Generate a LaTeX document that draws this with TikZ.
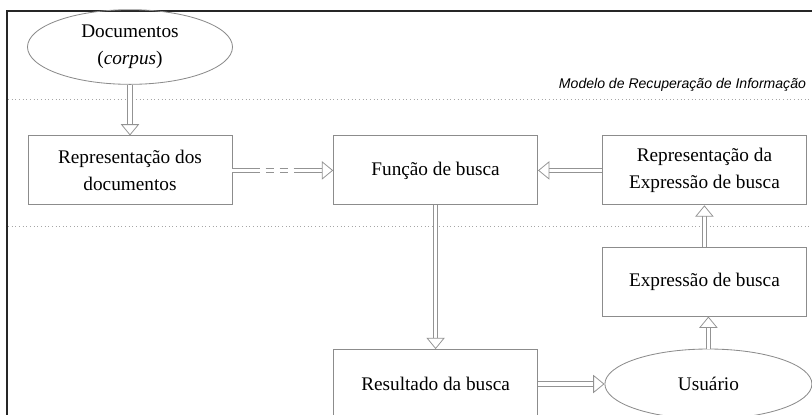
\documentclass[tikz,border=0pt]{standalone}
\usepackage{fontspec}
\setmainfont{Liberation Serif}
\newfontfamily\modelfont{Liberation Sans}
\usetikzlibrary{arrows.meta,shapes.geometric}

\tikzset{
    caixa/.style={draw=gray!90, line width=0.6pt, minimum width=5.1cm, minimum height=1.725cm, align=center},
    elipse/.style={ellipse, draw=gray!90, line width=0.6pt, align=center},
    seta/.style={draw=gray!85, double=white, double distance=2.6pt, line width=0.55pt},
    ponta/.style={seta, -{Triangle[open, length=8pt, width=13pt]}},
    tracejado/.style={seta, dash pattern=on 6pt off 4pt, dash phase=6pt},
    pontilhado/.style={gray!70, dotted, line width=0.6pt}
}

\begin{document}
\begin{tikzpicture}[every node/.style={font=\fontsize{13.7}{19}\selectfont}]
        \useasboundingbox (0,0) rectangle (20.3,-10.35);

        % moldura
        \draw[black!85, line width=1.5pt] (0.175,-10.6) -- (0.175,-0.275) -- (20.6,-0.275);

        % faixa do modelo
        \draw[pontilhado] (0.2,-2.475) -- (20.6,-2.475);
        \draw[pontilhado] (0.2,-5.65) -- (20.6,-5.65);
        \node[anchor=base west, font=\modelfont\itshape\fontsize{10}{12}\selectfont] (modelo) at (13.85,-2.2) {Modelo de Recuperação de Informação};

        \node[elipse, minimum width=5.125cm, minimum height=1.675cm] (docs) at (3.25,-1.175) {Documentos\\(\textit{corpus})};
        \node[caixa] (repdocs) at (3.25,-4.26) {Representação dos\\documentos};
        \node[caixa] (busca) at (10.89,-4.26) {Função de busca};
        \node[caixa] (repexpr) at (17.61,-4.26) {Representação da\\Expressão de busca};
        \node[caixa] (expr) at (17.61,-7.04) {Expressão de busca};
        \node[caixa] (resultado) at (10.89,-9.6) {Resultado da busca};
        \node[elipse, minimum width=5.175cm, minimum height=1.75cm] (usuario) at (17.71,-9.6) {Usuário};

        \coordinate (tr1) at (6.5,-4.26);
        \coordinate (tr2) at (7.375,-4.26);

        \draw[ponta] (docs.south) -- (repdocs.north);
        \draw[seta] (repdocs.east) -- (tr1);
        \draw[tracejado] (tr1) -- (tr2);
        \draw[ponta] (tr2) -- (busca.west);
        \draw[ponta] (repexpr.west) -- (busca.east);
        \draw[ponta] (busca.south) -- (resultado.north);
        \draw[ponta] (resultado.east) -- (usuario.west);
        \draw[ponta] (usuario.north) -- (expr.south -| usuario.north);
        \draw[ponta] (expr.north) -- (repexpr.south);

    \end{tikzpicture}
\end{document}
